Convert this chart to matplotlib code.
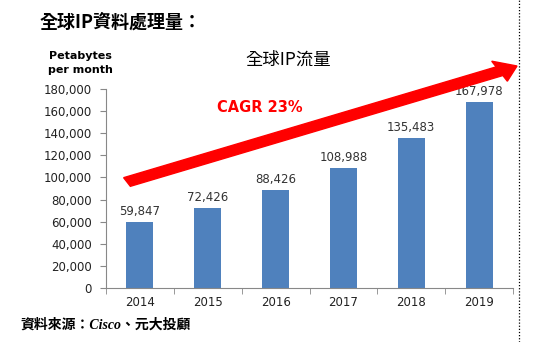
import matplotlib.pyplot as plt
import numpy as np

plt.rcParams['font.family'] = ['Noto Sans CJK TC', 'DejaVu Sans']

years = ['2014', '2015', '2016', '2017', '2018', '2019']
traffic = [59847, 72426, 88426, 108988, 135483, 167978]
yticks = [0, 20000, 40000, 60000, 80000, 100000, 120000, 140000, 160000, 180000]

fig = plt.figure(figsize=(5.54, 3.42), dpi=100)
ax = fig.add_axes([106/554, 1-288/342, (513-106)/554, (288-89)/342])

num_font = 'DejaVu Sans'

x = np.arange(len(years))
ax.bar(x, traffic, width=0.4, color='#4f81bd')
for xi, v in zip(x, traffic):
    ax.text(xi, v + 3500, f'{v:,}', ha='center', va='bottom', fontsize=8.5,
            color='#333333', family=num_font)

ax.set_xlim(-0.5, len(years) - 0.5)
ax.set_ylim(0, 180000)
ax.set_yticks(yticks)
ax.set_yticklabels([f'{t:,}' for t in yticks], fontsize=8.5, color='#222222', family=num_font)
ax.set_xticks(x)
ax.set_xticklabels(years, fontsize=8.5, color='#222222', family=num_font)
ax.set_xticks(np.arange(len(years) + 1) - 0.5, minor=True)
ax.tick_params(axis='x', which='major', length=0, pad=6)
ax.tick_params(axis='x', which='minor', length=4, color='#888888')
ax.tick_params(axis='y', length=4, color='#888888', pad=6)
for s in ['top', 'right']:
    ax.spines[s].set_visible(False)
for s in ['left', 'bottom']:
    ax.spines[s].set_color('#888888')

# red growth arrow
fig.patches.append(plt.matplotlib.patches.FancyArrow(
    127/554, 1-182/342, (517-127)/554, (182-66)/342,
    width=0.028, head_width=0.065, head_length=0.035,
    length_includes_head=True, color='#ff0000', transform=fig.transFigure, figure=fig))

# dotted vertical line
fig.add_artist(plt.Line2D([519/554, 519/554], [0, 1], transform=fig.transFigure,
                          color='black', lw=0.9, ls=(0, (1, 1.5))))

fig.text(40/554, 1-22/342, '全球IP資料處理量：', fontsize=13, fontweight='bold', va='center')
fig.text(80/554, 1-63/342, 'Petabytes\nper month', fontsize=8, fontweight='bold',
         ha='center', va='center', linespacing=1.4, family=['DejaVu Sans'])
fig.text(288/554, 1-60/342, '全球IP流量', fontsize=12.5, fontweight='medium',
         ha='center', va='center')
fig.text(260/554, 1-108/342, 'CAGR 23%', fontsize=10.5, fontweight='bold', color='#ff0000',
         ha='center', va='center', family=['DejaVu Sans'])
fig.text(20/554, 1-325/342, '資料來源：Cisco、元大投顧', fontsize=10, fontweight='bold',
         style='italic', va='center', family=['Liberation Serif', 'Noto Sans CJK TC'])

fig.savefig('out.png', dpi=100)
